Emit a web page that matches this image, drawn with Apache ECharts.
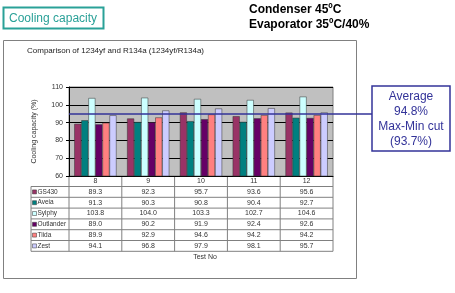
<!DOCTYPE html>
<html>
<head>
<meta charset="utf-8">
<script src="https://cdn.jsdelivr.net/npm/echarts@6/dist/echarts.min.js"></script>
<style>
  html, body { margin: 0; padding: 0; background: #fff; }
  #chart { width: 455px; height: 293px; }
</style>
</head>
<body>
<div id="chart"></div>
<script>
// data
var testNo = ['8', '9', '10', '11', '12'];
var seriesNames = ['GS430', 'Aveia', 'Sylphy', 'Outlander', 'Tiida', 'Zest'];
var gs430 = [89.3, 92.3, 95.7, 93.6, 95.6];
var aveia = [91.3, 90.3, 90.8, 90.4, 92.7];
var sylphy = [103.8, 104.0, 103.3, 102.7, 104.6];
var outlander = [89.0, 90.2, 91.9, 92.4, 92.6];
var tiida = [89.9, 92.9, 94.6, 94.2, 94.2];
var zest = [94.1, 96.8, 97.9, 98.1, 95.7];
var average = 94.8;
var maxMinCut = 93.7;
var yTicks = [60, 70, 80, 90, 100, 110];

var allValues = [gs430, aveia, sylphy, outlander, tiida, zest];
var colors = ['#993366', '#008080', '#ccffff', '#660066', '#ff8080', '#ccccff'];
var font = 'Liberation Sans, Arial, sans-serif';

var chart = echarts.init(document.getElementById('chart'));

var series = [];
for (var i = 0; i < seriesNames.length; i++) {
  series.push({
    name: seriesNames[i],
    type: 'bar',
    data: allValues[i],
    barGap: '0%',
    barCategoryGap: '20%',
    itemStyle: { color: colors[i], borderColor: '#333', borderWidth: 0.5 }
  });
}

var option = {
  animation: false,
  textStyle: { fontFamily: font },
  title: [
    {
      text: 'Comparison of 1234yf and R134a (1234yf/R134a)',
      left: 27, top: 47, padding: 0,
      textStyle: { fontSize: 8, fontWeight: 'normal', color: '#222' }
    }
  ],
  grid: {
    left: 69, right: 122, top: 87, bottom: 117,
    show: true, backgroundColor: '#c0c0c0', borderColor: '#808080', borderWidth: 1
  },
  xAxis: {
    type: 'category',
    data: testNo,
    axisLabel: { show: false },
    axisTick: { show: false },
    axisLine: { lineStyle: { color: '#000', width: 1 } }
  },
  yAxis: {
    type: 'value',
    min: yTicks[0], max: yTicks[yTicks.length - 1], interval: 10,
    name: 'Cooling capacity (%)',
    nameLocation: 'middle',
    nameGap: 31,
    nameRotate: 90,
    nameTextStyle: { fontSize: 7, color: '#333' },
    axisLabel: { fontSize: 7, color: '#333', margin: 6 },
    axisLine: { show: true, lineStyle: { color: '#000' } },
    axisTick: { show: true, length: 3, lineStyle: { color: '#000' } },
    splitLine: { lineStyle: { color: '#000', width: 1 } }
  },
  series: series
};
chart.setOption(option);

// frame, headings, data table and callout
var g = [];
g.push({ type: 'rect', shape: { x: 3.5, y: 40.5, width: 353, height: 238 }, style: { fill: 'none', stroke: '#808080', lineWidth: 1 }, z: 0 });
g.push({ type: 'rect', shape: { x: 3.5, y: 7.5, width: 100, height: 21 }, style: { fill: '#fff', stroke: '#2aa198', lineWidth: 2 } });
g.push({ type: 'text', x: 9, y: 18.5, style: { text: 'Cooling capacity', fontSize: 12, fill: '#2aa198', fontFamily: font, verticalAlign: 'middle' } });
g.push({ type: 'text', x: 249, y: 10, style: { text: 'Condenser 45\u00baC', fontSize: 12, fontWeight: 'bold', fill: '#000', fontFamily: font, verticalAlign: 'middle' } });
g.push({ type: 'text', x: 249, y: 25, style: { text: 'Evaporator 35\u00baC/40%', fontSize: 12, fontWeight: 'bold', fill: '#000', fontFamily: font, verticalAlign: 'middle' } });

var gridLeft = 69, gridRight = 333, bottomY = 176;
var colW = (gridRight - gridLeft) / testNo.length;
var rowH = 10.8;
var headerBottom = bottomY + 10.5;
var tableBottom = headerBottom + rowH * seriesNames.length;
var legendLeft = 31;
var lineStyle = { stroke: '#808080', lineWidth: 1 };
var cellText = { fontSize: 7, fill: '#333', fontFamily: font, verticalAlign: 'middle' };

// horizontal lines
g.push({ type: 'line', shape: { x1: gridLeft, y1: headerBottom, x2: gridRight, y2: headerBottom }, style: lineStyle });
for (var r = 0; r <= seriesNames.length; r++) {
  var yy = headerBottom + r * rowH;
  g.push({ type: 'line', shape: { x1: legendLeft, y1: yy, x2: gridRight, y2: yy }, style: lineStyle });
}
// vertical lines
g.push({ type: 'line', shape: { x1: legendLeft, y1: headerBottom, x2: legendLeft, y2: tableBottom }, style: lineStyle });
for (var c = 0; c <= testNo.length; c++) {
  var xx = gridLeft + c * colW;
  g.push({ type: 'line', shape: { x1: xx, y1: bottomY, x2: xx, y2: tableBottom }, style: lineStyle });
}
// header labels
for (var c2 = 0; c2 < testNo.length; c2++) {
  var cx = chart.convertToPixel({ xAxisIndex: 0 }, testNo[c2]);
  g.push({ type: 'text', x: cx, y: bottomY + 5.5, style: echarts.util.extend({ text: testNo[c2], align: 'center' }, cellText) });
}
// rows
for (var s = 0; s < seriesNames.length; s++) {
  var cy = headerBottom + s * rowH + rowH / 2;
  g.push({ type: 'rect', shape: { x: legendLeft + 1.5, y: cy - 2, width: 4, height: 4 }, style: { fill: colors[s], stroke: '#333', lineWidth: 0.5 } });
  g.push({ type: 'text', x: legendLeft + 6.5, y: cy, style: { text: seriesNames[s], fontSize: 6.5, fill: '#333', fontFamily: font, verticalAlign: 'middle' } });
  for (var k = 0; k < testNo.length; k++) {
    var px = chart.convertToPixel({ xAxisIndex: 0 }, testNo[k]);
    g.push({ type: 'text', x: px, y: cy, style: echarts.util.extend({ text: allValues[s][k].toFixed(1), align: 'center' }, cellText) });
  }
}
g.push({ type: 'text', x: 205, y: tableBottom + 6, style: echarts.util.extend({ text: 'Test No', align: 'center' }, cellText) });

// average line and callout
var avgY = chart.convertToPixel({ yAxisIndex: 0 }, average);
g.push({ type: 'line', shape: { x1: gridLeft, y1: avgY, x2: 372, y2: avgY }, style: { stroke: '#333399', lineWidth: 1.5 }, z: 10 });
g.push({ type: 'rect', shape: { x: 372, y: 86, width: 78, height: 65 }, style: { fill: '#fff', stroke: '#333399', lineWidth: 1.5 }, z: 10 });
var callout = ['Average', average.toFixed(1) + '%', 'Max-Min cut', '(' + maxMinCut.toFixed(1) + '%)'];
var calloutY = [97, 112, 127, 141.5];
for (var t = 0; t < callout.length; t++) {
  g.push({ type: 'text', x: 411, y: calloutY[t], z: 11, style: { text: callout[t], fontSize: 12, fill: '#333399', align: 'center', verticalAlign: 'middle', fontFamily: font } });
}

chart.setOption({ graphic: g });
</script>
</body>
</html>
